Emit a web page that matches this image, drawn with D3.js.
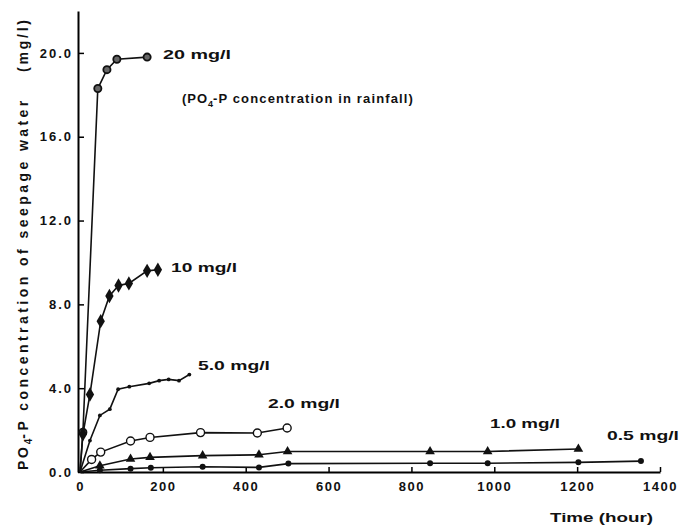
<!DOCTYPE html>
<html>
<head>
<meta charset="utf-8">
<script src="https://cdn.jsdelivr.net/npm/d3@7"></script>
<style>
  body { margin: 0; background: #fff; }
  text { font-family: "Liberation Sans", Arial, sans-serif; font-weight: bold; fill: #111; }
</style>
</head>
<body>
<div id="chart"></div>
<script>
// hours vs PO4-P in seepage water (mg/l)
const s20 = [[0, 0], [7, 1.9], [43, 18.3], [65, 19.2], [89, 19.7], [162, 19.8]];
const s10 = [[0, 0], [7, 1.8], [24, 3.7], [50, 7.2], [71, 8.4], [93, 8.9], [118, 9.0], [162, 9.6], [188, 9.65]];
const s5 = [[0, 0], [24, 1.5], [48, 2.7], [72, 3.0], [92, 3.95], [119, 4.07], [167, 4.23], [191, 4.36], [214, 4.42], [239, 4.36], [264, 4.65]];
const s2 = [[0, 0], [28, 0.6], [50, 0.95], [122, 1.48], [169, 1.65], [291, 1.88], [428, 1.86], [500, 2.1]];
const s1 = [[0, 0], [48, 0.3], [122, 0.62], [169, 0.7], [296, 0.78], [432, 0.82], [501, 0.98], [845, 0.98], [984, 0.98], [1203, 1.1]];
const s05 = [[0, 0], [48, 0.08], [122, 0.16], [171, 0.2], [296, 0.25], [432, 0.22], [503, 0.4], [845, 0.42], [984, 0.42], [1203, 0.46], [1354, 0.52]];

const xTicks = [0, 200, 400, 600, 800, 1000, 1200, 1400];
const yTicks = [0, 4, 8, 12, 16, 20];

const width = 684, height = 526;
const svg = d3.select("#chart").append("svg")
  .attr("width", width)
  .attr("height", height);

const x = d3.scaleLinear().domain([0, 1400]).range([80, 660]);
const y = d3.scaleLinear().domain([0, 22]).range([472, 11]);

// axes with inward ticks
svg.append("g")
  .attr("transform", `translate(0,${y(0)})`)
  .call(d3.axisBottom(x).tickValues(xTicks).tickSizeInner(-5).tickSizeOuter(0).tickPadding(10).tickFormat(d3.format("d")))
  .call(g => g.select(".domain").attr("stroke-width", 2))
  .call(g => g.selectAll(".tick line").attr("stroke-width", 1.5))
  .call(g => g.selectAll("text").style("font-size", "13px").attr("fill", "#111").style("letter-spacing", "1.5px"));

svg.append("g")
  .attr("transform", `translate(${x(0) - 2},0)`)
  .call(d3.axisLeft(y).tickValues(yTicks).tickSizeInner(-6).tickSizeOuter(0).tickPadding(5).tickFormat(d3.format(".1f")))
  .call(g => g.select(".domain").attr("stroke-width", 2))
  .call(g => g.selectAll(".tick line").attr("stroke-width", 1.5))
  .call(g => g.selectAll("text").style("font-size", "13px").attr("fill", "#111").style("letter-spacing", "2px"));

const line = d3.line().x(d => x(d[0])).y(d => y(d[1]));

const series = [
  { data: s20, mark: "ringdot" },
  { data: s10, mark: "diamond" },
  { data: s5, mark: "dot" },
  { data: s2, mark: "open" },
  { data: s1, mark: "triangle" },
  { data: s05, mark: "filled" }
];

series.forEach(s => {
  svg.append("path")
    .datum(s.data)
    .attr("fill", "none")
    .attr("stroke", "#111")
    .attr("stroke-width", 1.6)
    .attr("d", line);

  const pts = svg.append("g").selectAll("g")
    .data(s.data.filter(d => d[0] > 0))
    .enter().append("g")
    .attr("transform", d => `translate(${x(d[0])},${y(d[1])})`);

  if (s.mark === "ringdot") {
    pts.append("circle").attr("r", 3.6).attr("fill", "#666").attr("stroke", "#111").attr("stroke-width", 1.8);
  } else if (s.mark === "diamond") {
    pts.append("path").attr("d", d3.symbol(d3.symbolDiamond, 60)()).attr("fill", "#111");
  } else if (s.mark === "dot") {
    pts.append("circle").attr("r", 1.9).attr("fill", "#111");
  } else if (s.mark === "open") {
    pts.append("circle").attr("r", 4).attr("fill", "#fff").attr("stroke", "#111").attr("stroke-width", 1.4);
  } else if (s.mark === "triangle") {
    pts.append("path").attr("d", d3.symbol(d3.symbolTriangle, 40)()).attr("fill", "#111");
  } else {
    pts.append("circle").attr("r", 3).attr("fill", "#111");
  }
});

// curve labels
const labels = [
  { t: "20 mg/l", x: 163, y: 59, w: 68 },
  { t: "10 mg/l", x: 171, y: 272, w: 66 },
  { t: "5.0 mg/l", x: 198, y: 370, w: 72 },
  { t: "2.0 mg/l", x: 268, y: 408, w: 72 },
  { t: "1.0 mg/l", x: 490, y: 428, w: 70 },
  { t: "0.5 mg/l", x: 607, y: 440, w: 72 },
  { t: "Time  (hour)", x: 550, y: 522, w: 103 }
];

svg.selectAll(".lab")
  .data(labels)
  .enter().append("text")
  .attr("class", "lab")
  .attr("x", d => d.x)
  .attr("y", d => d.y)
  .attr("textLength", d => d.w)
  .attr("lengthAdjust", "spacingAndGlyphs")
  .style("font-size", "13px")
  .text(d => d.t);

const note = svg.append("text")
  .attr("x", 182)
  .attr("y", 103)
  .style("font-size", "13px");
note.append("tspan").attr("textLength", 25).text("(PO");
note.append("tspan").attr("dy", 4).style("font-size", "9px").text("4");
note.append("tspan").attr("dy", -4).attr("textLength", 200).attr("lengthAdjust", "spacing").text("-P concentration in rainfall)");

// y axis title
const yt = svg.append("text")
  .attr("transform", "translate(28,470) rotate(-90)")
  .style("font-size", "14px");
yt.append("tspan").attr("textLength", 23).text("PO");
yt.append("tspan").attr("dy", 4).style("font-size", "10px").text("4");
yt.append("tspan").attr("dy", -4).attr("textLength", 338).attr("lengthAdjust", "spacing").text("-P concentration of seepage water");

svg.append("text")
  .attr("transform", "translate(28,20) rotate(-90)")
  .attr("text-anchor", "end")
  .attr("textLength", 52)
  .attr("lengthAdjust", "spacing")
  .style("font-size", "14px")
  .text("(mg/l)");
</script>
</body>
</html>
